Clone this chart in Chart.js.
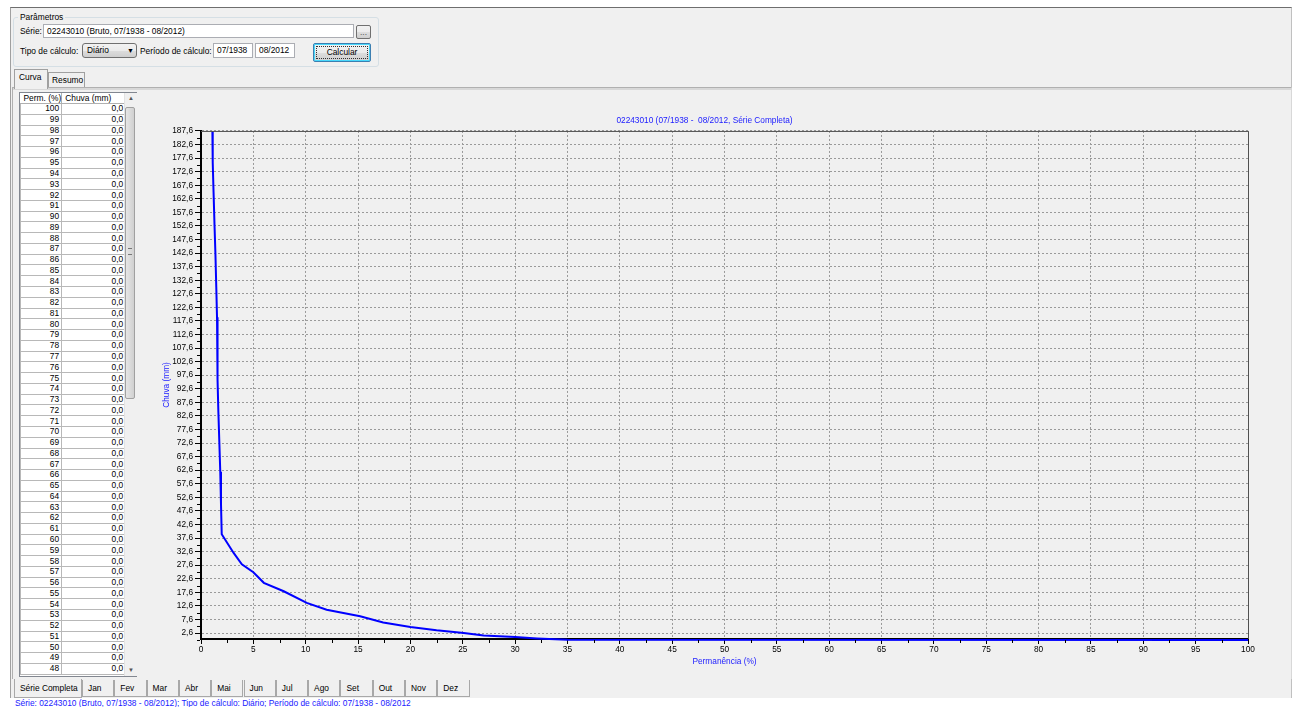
<!DOCTYPE html>
<html>
<head>
<meta charset="utf-8">
<script src="https://cdn.jsdelivr.net/npm/chart.js@4.4.0/dist/chart.umd.min.js"></script>
<style>
  html, body { margin: 0; padding: 0; }
  body {
    width: 1293px; height: 707px; overflow: hidden; position: relative;
    background: #ffffff;
    font-family: 'Liberation Sans', Arial, sans-serif; font-size: 8.4px; color: #000;
  }
  .abs { position: absolute; }
  #win { left: 10px; top: 7px; width: 1280px; height: 690px; background: #f0f0f0;
    border-top: 1px solid #6e6e6e; border-left: 1px solid #a0a0a0; border-right: 1px solid #c0c0c0; }
  .group { left: 13px; top: 17px; width: 364px; height: 48px; border: 1px solid #d5dfe5; border-radius: 3px; }
  .lbl { white-space: nowrap; line-height: 10px; }
  .input { background: #fff; border: 1px solid #abadb3; box-sizing: border-box; padding-left: 3px; line-height: 12px; white-space: nowrap; }
  .btn { box-sizing: border-box; border: 1px solid #707070; border-radius: 2px;
    background: linear-gradient(#f2f2f2, #ebebeb 50%, #dddddd 51%, #cfcfcf); text-align: center; white-space: nowrap; }
  .tab { box-sizing: border-box; border: 1px solid #a0a0a0; border-bottom: none; background: #f0f0f0; padding-left: 3px; line-height: 14px; white-space: nowrap; }
  .tab.sel { background: #f0f0f0; z-index: 2; }
  .btab { box-sizing: border-box; border: 1px solid #a8a8a8; border-top: none; background: #f0f0f0; padding-left: 5px; line-height: 16px; white-space: nowrap; }
  #page { left: 12px; top: 87px; width: 1278px; height: 591px; border-top: 1px solid #b0b0b0; border-left: 1px solid #b0b0b0; border-right: 1px solid #d8d8d8; box-shadow: inset 0 2px 0 #d8d8d8; }
  #table { left: 19px; top: 92px; width: 118px; height: 585px; border: 1px solid #828790; box-sizing: border-box; background: #fff; overflow: hidden; }
  #table table { border-collapse: collapse; position: absolute; left: 0; top: 0; }
  #table td { border: 1px solid #b8b8b8; height: 9.77px; padding: 0 2px 0 0; text-align: right; line-height: 9px; font-size: 8.4px; }
  #table th { font-weight: normal; text-align: left; height: 10px; padding: 0 0 0 3px; border-right: 1px solid #b0b0b0; border-bottom: 1px solid #b0b0b0; background: #ffffff; line-height: 10px; font-size: 8.4px; white-space: nowrap; }
  #scroll { left: 124px; top: 93px; width: 12px; height: 583px; background: #f0f0f0; border-left: 1px solid #e3e3e3; }
  #thumb { left: 125px; top: 107px; width: 10px; height: 292px; background: linear-gradient(90deg, #e6e6e6, #d0d0d0); border: 1px solid #a0a0a0; border-radius: 2px; box-sizing: border-box; }
  #chartBox { left: 141px; top: 95px; width: 1129px; height: 582px; }
  #status { left: 15px; top: 698px; color: #1a1aff; white-space: nowrap; line-height: 10px; }
</style>
</head>
<body>
<div id="win" class="abs"></div>

<div class="abs group"></div>
<div class="abs lbl" style="left:18px;top:12px;background:#f0f0f0;padding:0 2px;">Parâmetros</div>
<div class="abs lbl" style="left:20px;top:26px;">Série:</div>
<div class="abs input" style="left:43px;top:24px;width:311px;height:14px;">02243010 (Bruto, 07/1938 - 08/2012)</div>
<div class="abs btn" style="left:356px;top:25px;width:15px;height:14px;line-height:12px;color:#555;">...</div>
<div class="abs lbl" style="left:20px;top:46px;">Tipo de cálculo:</div>
<div class="abs btn" style="left:82px;top:43px;width:55px;height:15px;line-height:13px;text-align:left;padding-left:4px;border-radius:3px;">Diário<span style="position:absolute;left:44px;top:0;font-size:7px;">&#9660;</span></div>
<div class="abs lbl" style="left:140px;top:46px;">Período de cálculo:</div>
<div class="abs input" style="left:213px;top:43px;width:40px;height:15px;">07/1938</div>
<div class="abs input" style="left:255px;top:43px;width:40px;height:15px;">08/2012</div>
<div class="abs btn" style="left:313px;top:43px;width:58px;height:19px;line-height:17px;border-color:#3c7fb1;box-shadow: inset 0 0 0 1px #48d8fb;">
  <div style="position:absolute;left:2px;top:2px;right:2px;bottom:2px;border:1px dotted #333;"></div>Calcular</div>

<div id="page" class="abs"></div>
<div class="abs tab sel" style="left:14px;top:69px;width:34px;height:20px;border-bottom:none;padding-left:4px;">Curva</div>
<div class="abs tab" style="left:48px;top:72px;width:37px;height:15px;">Resumo</div>

<div id="table" class="abs"><table id="tbl"></table></div>
<div id="scroll" class="abs">
  <div style="position:absolute;left:3px;top:2px;font-size:6px;color:#555;">&#9650;</div>
  <div style="position:absolute;left:3px;bottom:3px;font-size:6px;color:#555;">&#9660;</div>
</div>
<div id="thumb" class="abs"><div style="position:absolute;left:2px;top:140px;width:4px;height:5px;border-top:1px solid #777;border-bottom:1px solid #777;"></div></div>

<div id="chartBox" class="abs"><canvas id="chart"></canvas></div>

<div id="btabs"></div>
<div id="status" class="abs">Série: 02243010 (Bruto, 07/1938 - 08/2012); Tipo de cálculo: Diário; Período de cálculo: 07/1938 - 08/2012</div>

<script>
// curve: permanence (%) vs rain (mm)
const permX = [1.08, 1.12, 1.20, 1.29, 1.38, 1.46, 1.53, 1.58, 1.66, 1.75, 1.84, 1.91, 1.98,
  3.1, 3.9, 5.0, 6.0, 7.9, 10.1, 12.0, 15.2, 17.4, 20.0, 22.5, 25.1, 27.0, 30.0, 32.1, 35.0, 100];
const chuvaY = [190, 176, 165, 153, 142, 130, 119, 96, 84, 73, 62, 50, 39,
  32.2, 27.9, 25.0, 21.1, 18.0, 13.7, 11.2, 8.75, 6.5, 4.8, 3.6, 2.6, 1.7, 1.1, 0.6, 0.1, 0];

const xTicks = [0, 5, 10, 15, 20, 25, 30, 35, 40, 45, 50, 55, 60, 65, 70, 75, 80, 85, 90, 95, 100];
const yTicks = [2.6, 7.6, 12.6, 17.6, 22.6, 27.6, 32.6, 37.6, 42.6, 47.6, 52.6, 57.6, 62.6, 67.6,
  72.6, 77.6, 82.6, 87.6, 92.6, 97.6, 102.6, 107.6, 112.6, 117.6, 122.6, 127.6, 132.6, 137.6,
  142.6, 147.6, 152.6, 157.6, 162.6, 167.6, 172.6, 177.6, 182.6, 187.6];

// left table (Perm. %, Chuva mm)
const tablePerm = [100, 99, 98, 97, 96, 95, 94, 93, 92, 91, 90, 89, 88, 87, 86, 85, 84, 83, 82, 81,
  80, 79, 78, 77, 76, 75, 74, 73, 72, 71, 70, 69, 68, 67, 66, 65, 64, 63, 62, 61, 60, 59, 58, 57,
  56, 55, 54, 53, 52, 51, 50, 49, 48];
const tableChuva = tablePerm.map(() => '0,0');

const monthTabs = ['Série Completa', 'Jan', 'Fev', 'Mar', 'Abr', 'Mai', 'Jun', 'Jul', 'Ago', 'Set', 'Out', 'Nov', 'Dez'];

// build table
const tbl = document.getElementById('tbl');
let html = '<tr><th style="width:37px">Perm. (%)</th><th style="width:60px">Chuva (mm)</th></tr>';
tablePerm.forEach((p, i) => {
  html += `<tr><td style="width:38px">${p}</td><td style="width:61px">${tableChuva[i]}</td></tr>`;
});
tbl.innerHTML = html;

// bottom tabs
const btabs = document.getElementById('btabs');
let left = 14;
monthTabs.forEach((m, i) => {
  const d = document.createElement('div');
  const w = i === 0 ? 68 : 32.3;
  d.className = 'abs btab';
  d.style.left = left + 'px';
  d.style.top = (i === 0 ? 679 : 680) + 'px';
  d.style.width = w + 'px';
  d.style.height = (i === 0 ? 19 : 17) + 'px';
  if (i === 0) { d.style.zIndex = 2; d.style.lineHeight = '19px'; }
  d.textContent = m;
  btabs.appendChild(d);
  left += w;
});

const font = { family: "'Liberation Sans', Arial, sans-serif", size: 8.3 };
const blue = '#1a1aff';

const frameAndMinor = {
  id: 'frameAndMinor',
  afterDraw(chart) {
    const { ctx, chartArea: a, scales: { x, y } } = chart;
    ctx.save();
    ctx.strokeStyle = '#505050';
    ctx.lineWidth = 1;
    ctx.beginPath();
    ctx.moveTo(a.left, a.top + 0.5);
    ctx.lineTo(a.right + 0.5, a.top + 0.5);
    ctx.lineTo(a.right + 0.5, a.bottom);
    ctx.stroke();
    // minor ticks
    ctx.strokeStyle = '#000';
    ctx.beginPath();
    for (let i = 0; i < xTicks.length - 1; i++) {
      const px = Math.round(x.getPixelForValue((xTicks[i] + xTicks[i + 1]) / 2)) + 0.5;
      ctx.moveTo(px, a.bottom + 1);
      ctx.lineTo(px, a.bottom + 4);
    }
    for (let i = 0; i < yTicks.length; i++) {
      const py = Math.round(y.getPixelForValue(yTicks[i] - 2.5)) + 0.5;
      ctx.moveTo(a.left - 4, py);
      ctx.lineTo(a.left - 1, py);
    }
    ctx.stroke();
    ctx.restore();
  }
};

new Chart(document.getElementById('chart'), {
  type: 'line',
  data: {
    datasets: [{
      data: permX.map((v, i) => ({ x: v, y: chuvaY[i] })),
      borderColor: '#0000ff',
      borderWidth: 2,
      pointRadius: 0,
      tension: 0,
      fill: false,
      clip: { left: 0, top: 0, right: 0, bottom: 4 },
    }],
  },
  options: {
    animation: false,
    responsive: true,
    maintainAspectRatio: false,
    layout: { padding: { left: 20, right: 22, top: 0, bottom: 0 } },
    scales: {
      x: {
        type: 'linear',
        min: 0,
        max: 100,
        afterBuildTicks: (scale) => { scale.ticks = xTicks.map(v => ({ value: v })); },
        afterFit: (scale) => { scale.height = 38; },
        ticks: { font, color: '#000', padding: 1, maxRotation: 0, autoSkip: false },
        grid: { color: '#9a9a9a', tickColor: '#000', tickLength: 5, tickBorderDash: [] },
        border: { color: '#000', width: 2, dash: [2, 2] },
        title: { display: true, text: 'Permanência (%)', color: blue, font, padding: { top: 0, bottom: 10 } },
      },
      y: {
        type: 'linear',
        min: 0.4,
        max: 187.6,
        afterBuildTicks: (scale) => { scale.ticks = yTicks.map(v => ({ value: v })); },
        afterFit: (scale) => { scale.width = 40; },
        ticks: { font, color: '#000', padding: 2, autoSkip: false, callback: (v) => v.toFixed(1).replace('.', ',') },
        grid: { color: '#9a9a9a', tickColor: '#000', tickLength: 6, tickBorderDash: [] },
        border: { color: '#000', width: 2, dash: [2, 2] },
        title: { display: true, text: 'Chuva (mm)', color: blue, font, padding: { top: 1, bottom: 0 } },
      },
    },
    plugins: {
      legend: { display: false },
      tooltip: { enabled: false },
      title: {
        display: true,
        text: '02243010 (07/1938 -  08/2012, Série Completa)',
        color: blue,
        font: { ...font, weight: 'normal' },
        padding: { top: 21, bottom: 5 },
      },
    },
  },
  plugins: [frameAndMinor],
});
</script>
</body>
</html>
